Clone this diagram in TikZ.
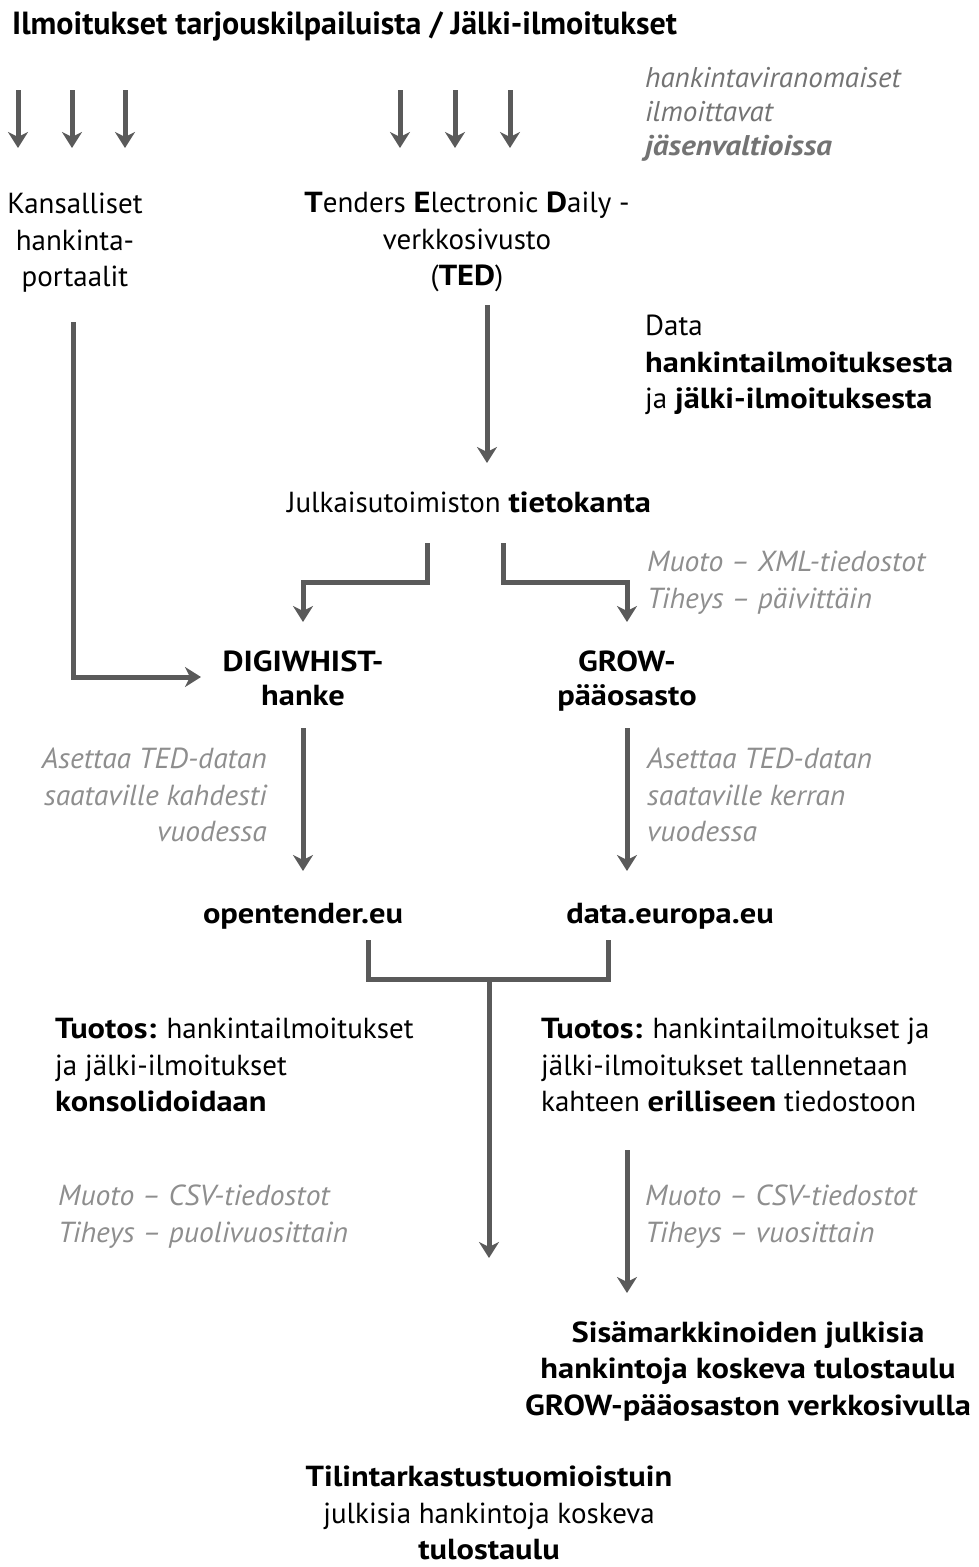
\documentclass[tikz,border=0pt]{standalone}
\usepackage{fontspec}
\setmainfont{PT Sans}[BoldFeatures={FakeStretch=1.12},ItalicFeatures={FakeStretch=1.02},BoldItalicFeatures={FakeStretch=1.1}]
\newfontfamily\titlefont{PT Sans}
\usetikzlibrary{arrows.meta}
\definecolor{arr}{HTML}{5A5A5A}
\definecolor{gtext}{HTML}{8E8E8E}
\definecolor{ntext}{HTML}{737373}
\begin{document}
\begin{tikzpicture}[x=1pt,y=-1pt,
 conn/.style={draw=arr,line width=5pt,-{Stealth[length=16pt,width=20pt,inset=5pt]}},
 plain/.style={draw=arr,line width=5pt},
 txt/.style={inner sep=0pt,font=\fontsize{29}{36.5}\selectfont},
 btxt/.style={inner sep=0pt,font=\bfseries\fontsize{29}{34}\selectfont},
 gtxt/.style={inner sep=0pt,text=gtext,font=\fontsize{29}{36.5}\selectfont\itshape},
]
\useasboundingbox (0,0) rectangle (978,1567);
\node[inner sep=0pt,anchor=west,font=\titlefont\bfseries\fontsize{32}{36}\selectfont] (title) at (12,26) {Ilmoitukset tarjouskilpailuista / Jälki-ilmoitukset};
% top arrows
\foreach \n/\x in {l1/18,l2/72,l3/125,t1/400,t2/455,t3/510}{
  \coordinate (\n s) at (\x,90);
  \coordinate (\n e) at (\x,148);
  \draw[conn] (\n s) -- (\n e);
}
\node[gtxt,text=ntext,align=left,anchor=north west,font=\fontsize{28.5}{34}\selectfont\itshape] (note) at (645,67) {hankintaviranomaiset\\ilmoittavat\\\textbf{jäsenvaltioissa}};
\node[txt,align=center] (kans) at (75,243) {Kansalliset\\hankinta-\\portaalit};
\node[txt,align=center] (ted) at (467,242) {\textbf{T}enders \textbf{E}lectronic \textbf{D}aily -\\verkkosivusto\\(\textbf{TED})};
\node[txt,align=left,anchor=north west] (data) at (645,315) {Data\\\textbf{hankintailmoituksesta}\\ja \textbf{jälki-ilmoituksesta}};
\node[txt] (db) at (469,502) {Julkaisutoimiston \textbf{tietokanta}};
\node[gtxt,align=left,anchor=north west] (xml) at (647,551) {Muoto – XML-tiedostot\\Tiheys – päivittäin};
\node[btxt,align=center,anchor=north] (digi) at (303,651) {DIGIWHIST-\\hanke};
\node[btxt,align=center,anchor=north] (grow) at (627,651) {GROW-\\pääosasto};
\node[gtxt,align=right,anchor=north east] (as1) at (267,748) {Asettaa TED-datan\\saataville kahdesti\\vuodessa};
\node[gtxt,align=left,anchor=north west] (as2) at (647,748) {Asettaa TED-datan\\saataville kerran\\vuodessa};
\node[btxt] (open) at (303,916) {opentender.eu};
\node[btxt] (eur) at (670,916) {data.europa.eu};
\node[txt,align=left,anchor=north west] (tu1) at (55,1018) {\textbf{Tuotos:} hankintailmoitukset\\ja jälki-ilmoitukset\\\textbf{konsolidoidaan}};
\node[txt,align=left,anchor=north west] (tu2) at (541,1018) {\textbf{Tuotos:} hankintailmoitukset ja\\jälki-ilmoitukset tallennetaan\\kahteen \textbf{erilliseen} tiedostoon};
\node[gtxt,align=left,anchor=north west] (csv1) at (58,1185) {Muoto – CSV-tiedostot\\Tiheys – puolivuosittain};
\node[gtxt,align=left,anchor=north west] (csv2) at (645,1185) {Muoto – CSV-tiedostot\\Tiheys – vuosittain};
\node[btxt,align=center,font=\bfseries\fontsize{29}{36.5}\selectfont] (sis) at (748,1371) {Sisämarkkinoiden julkisia\\hankintoja koskeva tulostaulu\\GROW-pääosaston verkkosivulla};
\node[txt,align=center] (tili) at (489,1513) {\textbf{Tilintarkastustuomioistuin}\\julkisia hankintoja koskeva\\\textbf{tulostaulu}};
% connectors
\coordinate (tedb) at (487,305);
\coordinate (dbt) at (487,463);
\draw[conn] (tedb) -- (dbt);
\coordinate (kb) at (73,322);
\coordinate (dk) at (201,677);
\draw[conn] (kb) |- (dk);
\coordinate (dbl) at (427,543);
\coordinate (dbr) at (503,543);
\coordinate (dt) at (303,622);
\coordinate (gt) at (627,622);
\draw[conn] (dbl) -- (427,582) -| (dt);
\draw[conn] (dbr) -- (503,582) -| (gt);
\coordinate (digib) at (303,728);
\coordinate (opt) at (303,871);
\coordinate (growb) at (627,728);
\coordinate (eut) at (627,871);
\draw[conn] (digib) -- (opt);
\draw[conn] (growb) -- (eut);
\coordinate (brl) at (368,940);
\coordinate (brr) at (608,940);
\coordinate (brm) at (489,979);
\coordinate (tilt) at (489,1258);
\draw[plain] (brl) |- (brr |- brm) -- (brr);
\draw[conn] (brm) -- (tilt);
\coordinate (t2b) at (627,1150);
\coordinate (sist) at (627,1293);
\draw[conn] (t2b) -- (sist);
\end{tikzpicture}
\end{document}
